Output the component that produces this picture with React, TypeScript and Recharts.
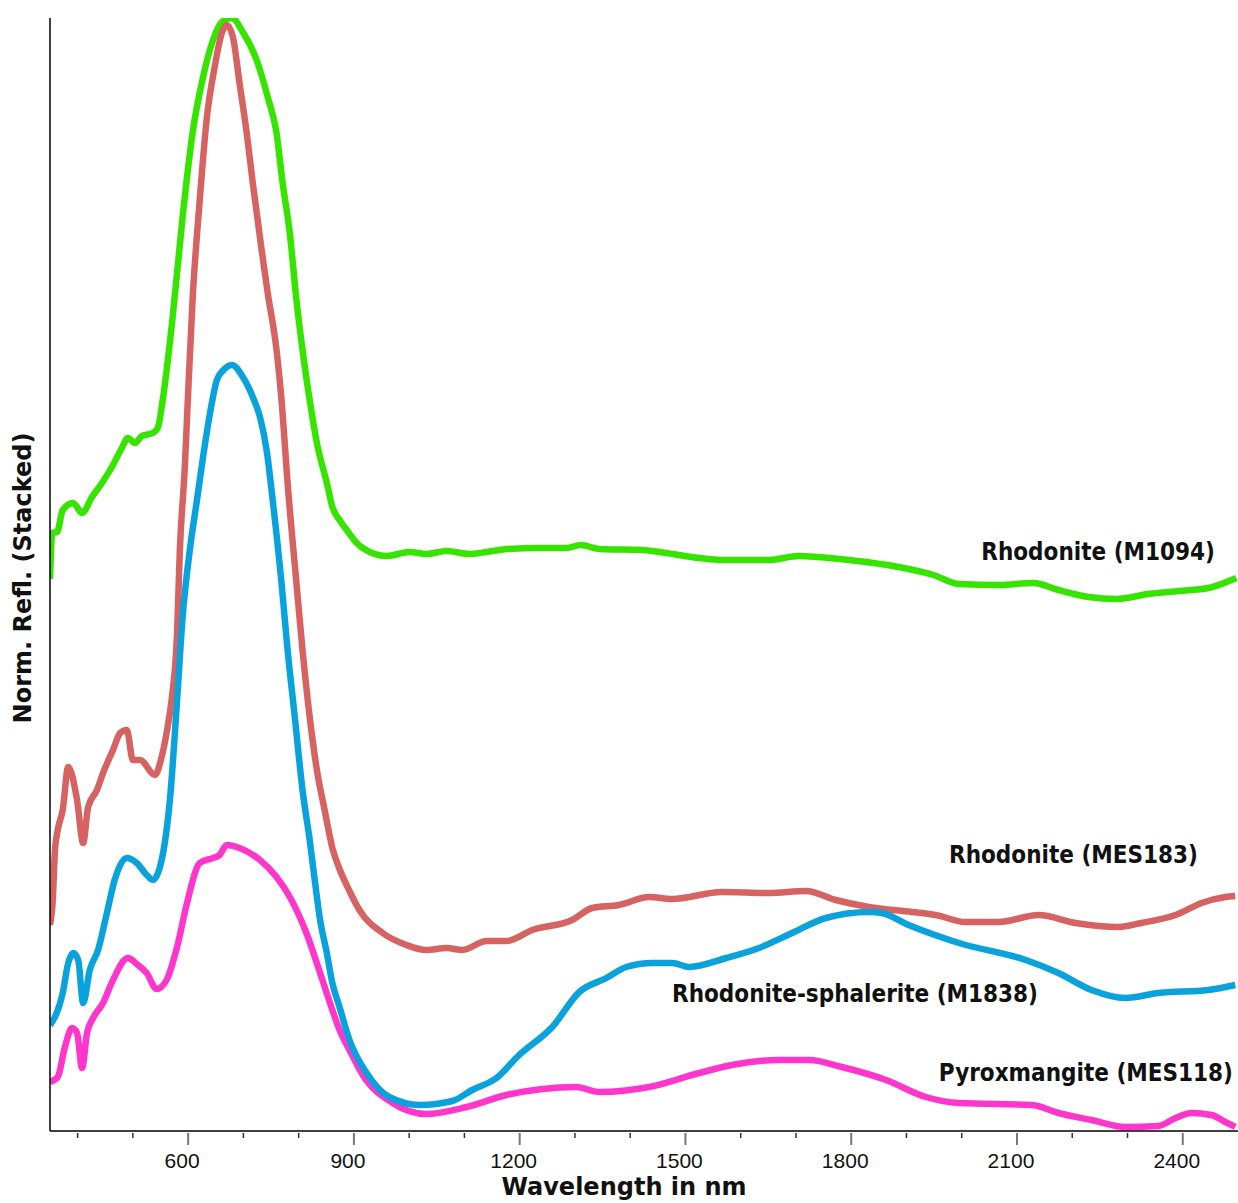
import React from 'react';
import { LineChart, Line, XAxis, YAxis, Customized } from 'recharts';

// Wavelength (nm) / normalised reflectance (stacked, arbitrary units)
const m1094: [number, number][] = [
  [350, 0.552], [354, 0.598], [363, 0.599], [373, 0.621], [392, 0.628], [408, 0.618],
  [426, 0.634], [444, 0.648], [462, 0.664], [480, 0.683], [491, 0.693], [504, 0.688],
  [516, 0.695], [536, 0.698], [545, 0.703], [554, 0.731], [572, 0.814], [590, 0.914],
  [608, 0.998], [627, 1.054], [645, 1.091], [661, 1.109], [679, 1.113], [699, 1.099],
  [724, 1.071], [744, 1.034], [760, 0.998], [771, 0.948], [784, 0.898], [796, 0.831],
  [807, 0.781], [820, 0.731], [833, 0.688], [851, 0.648], [861, 0.624], [874, 0.611],
  [887, 0.601], [905, 0.588], [916, 0.583], [959, 0.575], [1001, 0.579], [1031, 0.577],
  [1068, 0.58], [1109, 0.577], [1151, 0.58], [1176, 0.582], [1236, 0.583], [1284, 0.583],
  [1311, 0.586], [1344, 0.582], [1422, 0.581], [1465, 0.578], [1525, 0.573], [1566, 0.571],
  [1651, 0.571], [1705, 0.575], [1740, 0.574], [1796, 0.571], [1886, 0.564], [1949, 0.556],
  [1995, 0.547], [2067, 0.546], [2130, 0.548], [2175, 0.541], [2230, 0.534], [2280, 0.532],
  [2338, 0.537], [2392, 0.54], [2446, 0.543], [2497, 0.553],
];

const mes183: [number, number][] = [
  [350, 0.206], [355, 0.231], [359, 0.281], [364, 0.301], [373, 0.321], [383, 0.364],
  [399, 0.331], [410, 0.288], [419, 0.324], [435, 0.341], [446, 0.358], [464, 0.381],
  [477, 0.398], [489, 0.401], [500, 0.371], [513, 0.371], [540, 0.356], [552, 0.374],
  [561, 0.398], [570, 0.431], [580, 0.498], [585, 0.581], [594, 0.664], [599, 0.726],
  [608, 0.831], [621, 0.931], [634, 1.014], [648, 1.064], [661, 1.098], [670, 1.106],
  [681, 1.094], [693, 1.048], [706, 0.998], [717, 0.948], [733, 0.881], [744, 0.838],
  [760, 0.781], [769, 0.731], [780, 0.648], [796, 0.548], [807, 0.481], [820, 0.414],
  [833, 0.361], [847, 0.321], [861, 0.283], [874, 0.262], [892, 0.24], [910, 0.221],
  [952, 0.198], [995, 0.186], [1031, 0.181], [1068, 0.183], [1096, 0.181], [1140, 0.19],
  [1176, 0.19], [1223, 0.201], [1295, 0.211], [1331, 0.223], [1380, 0.226], [1434, 0.234],
  [1476, 0.232], [1566, 0.239], [1651, 0.238], [1718, 0.24], [1772, 0.231], [1832, 0.224],
  [1910, 0.219], [1953, 0.216], [2007, 0.209], [2067, 0.209], [2139, 0.216], [2206, 0.208],
  [2284, 0.204], [2325, 0.208], [2387, 0.216], [2434, 0.228], [2477, 0.234], [2495, 0.235],
];

const m1838: [number, number][] = [
  [350, 0.106], [359, 0.114], [373, 0.138], [383, 0.168], [392, 0.178], [401, 0.171],
  [410, 0.128], [422, 0.161], [437, 0.181], [453, 0.218], [467, 0.251], [489, 0.273],
  [507, 0.268], [525, 0.256], [536, 0.251], [549, 0.264], [561, 0.301], [567, 0.331],
  [580, 0.431], [590, 0.514], [603, 0.581], [616, 0.631], [627, 0.674], [639, 0.716],
  [652, 0.751], [664, 0.761], [679, 0.766], [699, 0.754], [717, 0.734], [730, 0.714],
  [742, 0.681], [753, 0.631], [769, 0.548], [780, 0.481], [793, 0.414], [807, 0.341],
  [820, 0.291], [833, 0.234], [838, 0.214], [851, 0.178], [861, 0.148], [874, 0.124],
  [892, 0.091], [923, 0.058], [964, 0.034], [1019, 0.026], [1078, 0.03], [1114, 0.041],
  [1158, 0.053], [1199, 0.076], [1259, 0.104], [1308, 0.139], [1357, 0.153], [1393, 0.164],
  [1440, 0.168], [1476, 0.168], [1507, 0.164], [1574, 0.173], [1633, 0.183], [1693, 0.198],
  [1754, 0.213], [1832, 0.219], [1855, 0.218], [1904, 0.206], [1995, 0.188], [2116, 0.171],
  [2175, 0.158], [2235, 0.141], [2296, 0.133], [2356, 0.138], [2446, 0.141], [2495, 0.146],
];

const mes118: [number, number][] = [
  [350, 0.049], [364, 0.054], [377, 0.084], [390, 0.103], [399, 0.098], [408, 0.063],
  [417, 0.098], [428, 0.113], [446, 0.128], [464, 0.151], [491, 0.173], [509, 0.166],
  [525, 0.158], [543, 0.142], [561, 0.151], [580, 0.184], [598, 0.228], [621, 0.268],
  [645, 0.273], [657, 0.276], [670, 0.286], [693, 0.283], [730, 0.271], [760, 0.254],
  [784, 0.234], [802, 0.214], [814, 0.198], [843, 0.151], [861, 0.121], [874, 0.101],
  [892, 0.081], [916, 0.056], [970, 0.028], [1031, 0.017], [1104, 0.024], [1176, 0.036],
  [1241, 0.042], [1302, 0.044], [1344, 0.039], [1434, 0.044], [1525, 0.058], [1584, 0.066],
  [1669, 0.071], [1724, 0.071], [1783, 0.064], [1863, 0.051], [1935, 0.034], [1995, 0.028],
  [2127, 0.026], [2175, 0.018], [2235, 0.011], [2296, 0.004], [2356, 0.005], [2387, 0.013],
  [2416, 0.018], [2452, 0.016], [2477, 0.009], [2495, 0.004],
];

const xTicks = [400, 500, 600, 700, 800, 900, 1000, 1100, 1200, 1300, 1400, 1500, 1600, 1700, 1800, 1900, 2000, 2100, 2200, 2300, 2400];
const majorTicks = [600, 900, 1200, 1500, 1800, 2100, 2400];

const seriesNames = ['Rhodonite (M1094)', 'Rhodonite (MES183)', 'Rhodonite-sphalerite (M1838)', 'Pyroxmangite (MES118)'];

const toRows = (arr: [number, number][]) => arr.map(([wl, v]) => ({ wl, v }));

const AXIS_FONT = "'Liberation Sans', Arial, sans-serif";
const TITLE_FONT = "'DejaVu Sans', Verdana, sans-serif";
const LABEL_FONT = "'DejaVu Sans Condensed', 'DejaVu Sans', sans-serif";

const XTick = (props: any) => {
  const { x, y, payload } = props;
  const major = majorTicks.includes(payload.value);
  return (
    <g>
      <line x1={x} x2={x} y1={y + 2} y2={y + (major ? 14 : 7)} stroke={major ? '#777' : '#333'} strokeWidth={major ? 2 : 1.5} />
      {major && (
        <text x={x - 6} y={y + 37} textAnchor="middle" fontSize={21} fontFamily={AXIS_FONT} fill="#111">
          {payload.value}
        </text>
      )}
    </g>
  );
};

const Labels = () => (
  <g>
    <text x={1215} y={560} textAnchor="end" fontSize={24} fontWeight="bold" fontFamily={LABEL_FONT} fontStretch="condensed" fill="#111">{seriesNames[0]}</text>
    <text x={1198} y={863} textAnchor="end" fontSize={24} fontWeight="bold" fontFamily={LABEL_FONT} fontStretch="condensed" fill="#111">{seriesNames[1]}</text>
    <text x={1038} y={1002} textAnchor="end" fontSize={24} fontWeight="bold" fontFamily={LABEL_FONT} fontStretch="condensed" fill="#111">{seriesNames[2]}</text>
    <text x={1233} y={1081} textAnchor="end" fontSize={24} fontWeight="bold" fontFamily={LABEL_FONT} fontStretch="condensed" fill="#111">{seriesNames[3]}</text>
    <text x={624} y={1195} textAnchor="middle" fontSize={24} fontWeight="bold" fontFamily={TITLE_FONT} fill="#111">Wavelength in nm</text>
    <text transform="translate(31,578) rotate(-90)" textAnchor="middle" fontSize={24} fontWeight="bold" fontFamily={TITLE_FONT} fill="#111">Norm. Refl. (Stacked)</text>
  </g>
);

export default function App() {
  return (
    <div style={{ position: 'absolute', left: 0, top: 0, width: 1238, height: 1203, background: '#fff' }}>
      <LineChart width={1238} height={1203} margin={{ top: 18, right: 0, bottom: 0, left: 0 }}>
        <XAxis
          type="number"
          dataKey="wl"
          domain={[350, 2500]}
          ticks={xTicks}
          tick={<XTick />}
          tickLine={false}
          tickSize={0}
          tickMargin={0}
          height={72}
          axisLine={{ stroke: '#000', strokeWidth: 1.5 }}
          allowDataOverflow
          interval={0}
        />
        <YAxis
          type="number"
          domain={[0, 1.113]}
          width={50}
          tick={false}
          tickLine={false}
          axisLine={{ stroke: '#000', strokeWidth: 1.5 }}
          allowDataOverflow
        />
        <Line data={toRows(m1094)} dataKey="v" type="monotone" stroke="#36e400" strokeWidth={6.5} dot={false} isAnimationActive={false} strokeLinejoin="round" />
        <Line data={toRows(mes183)} dataKey="v" type="monotone" stroke="#d66262" strokeWidth={6.5} dot={false} isAnimationActive={false} strokeLinejoin="round" />
        <Line data={toRows(mes118)} dataKey="v" type="monotone" stroke="#ff36cc" strokeWidth={6.5} dot={false} isAnimationActive={false} strokeLinejoin="round" />
        <Line data={toRows(m1838)} dataKey="v" type="monotone" stroke="#0aa2dc" strokeWidth={6.5} dot={false} isAnimationActive={false} strokeLinejoin="round" />
        <Customized component={Labels} />
      </LineChart>
    </div>
  );
}
